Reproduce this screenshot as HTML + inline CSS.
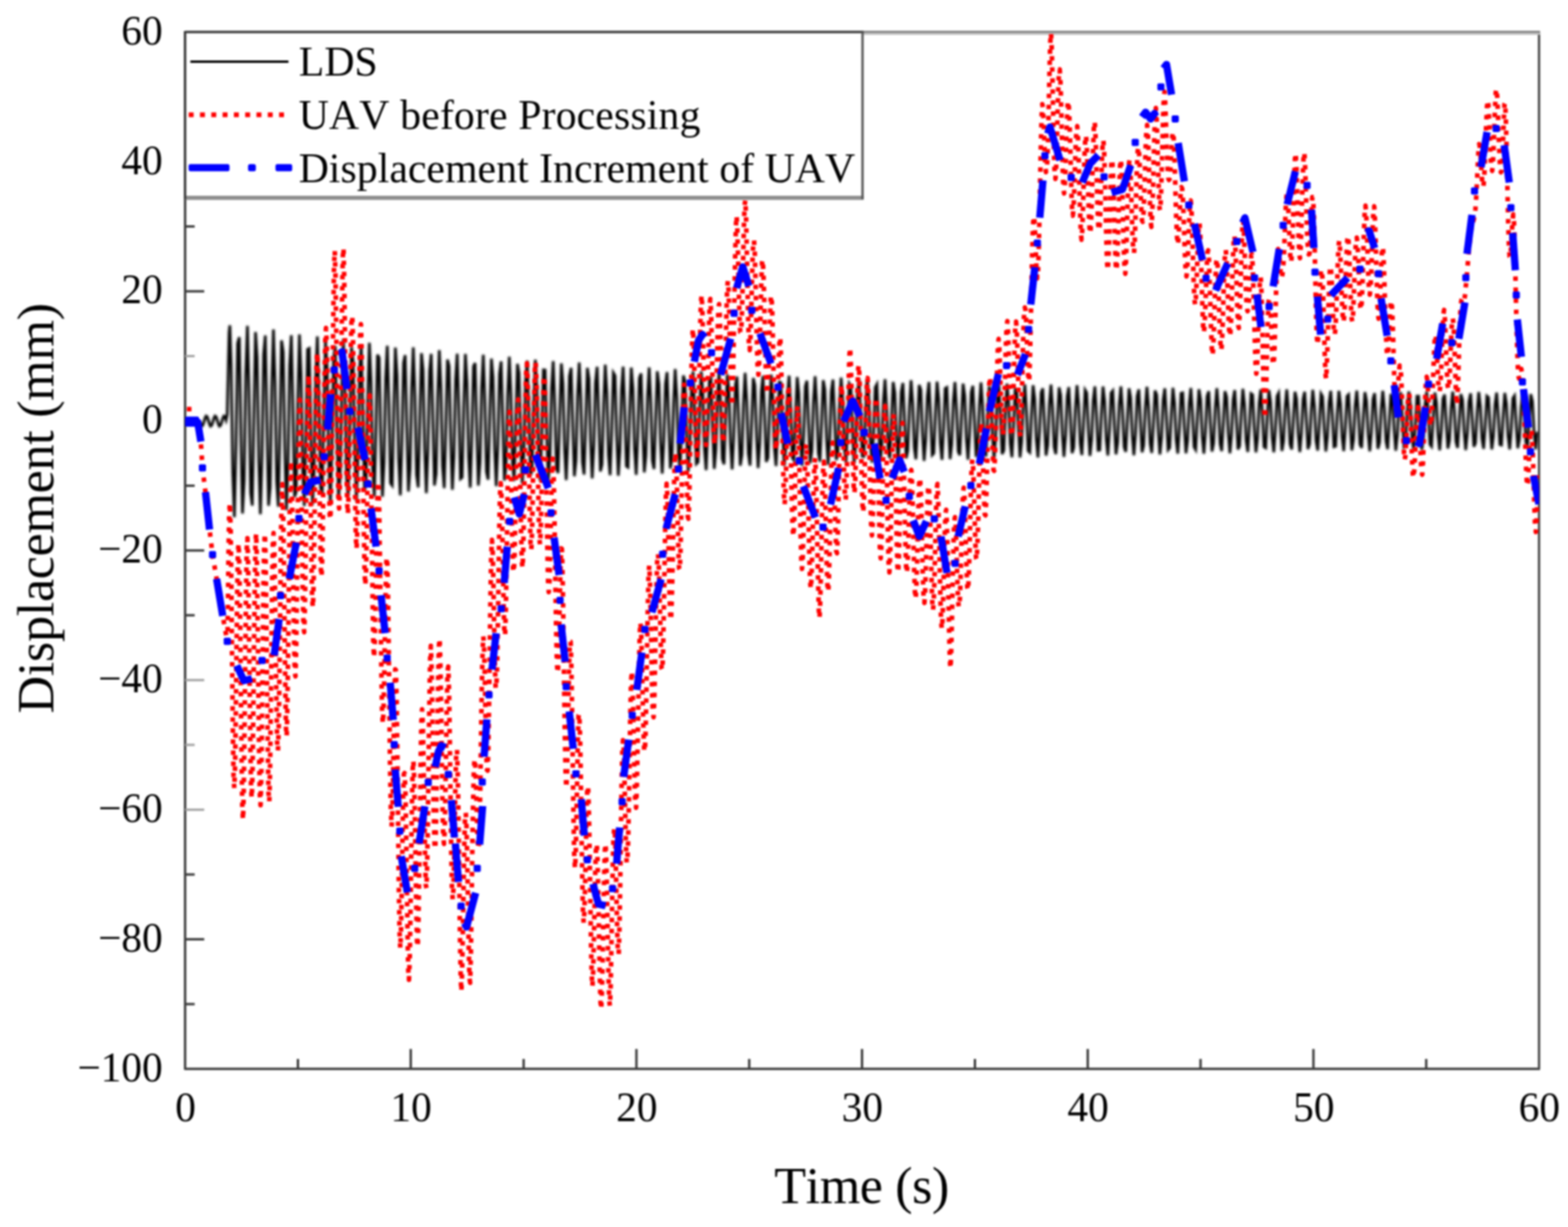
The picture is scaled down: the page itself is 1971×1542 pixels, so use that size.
<!DOCTYPE html>
<html lang="en"><head><meta charset="utf-8"><title>Displacement vs Time</title>
<style>html,body{margin:0;padding:0;background:#fff;width:1971px;height:1542px;overflow:hidden}svg{display:block;filter:blur(0.8px)}text{font-family:"Liberation Serif","DejaVu Serif",serif;fill:#000;font-kerning:none}.tk{font-size:52px}.ax{font-size:65.5px}.lg{font-size:52.5px}</style></head><body>
<svg width="1971" height="1542" viewBox="0 0 1971 1542">
<rect x="0" y="0" width="1971" height="1542" fill="#fff"/>
<defs><clipPath id="pc"><rect x="231.7" y="40.3" width="1702.8999999999999" height="1303.0"/></clipPath><filter id="soft" x="-2%" y="-10%" width="104%" height="120%"><feGaussianBlur stdDeviation="1.2"/></filter></defs>
<g stroke="#3c3c3c" stroke-width="3.0" fill="none">
<line x1="232.7" y1="39.0" x2="232.7" y2="1344.6"/>
<line x1="232.7" y1="1343.3" x2="1935.8999999999999" y2="1343.3"/>
<line x1="1934.6" y1="40.3" x2="1934.6" y2="1343.3" stroke="#4c4c4c"/>
<line x1="232.7" y1="39.9" x2="1935.8999999999999" y2="39.9" stroke="#7a7a7a" stroke-width="2.2"/>
<line x1="232.7" y1="42.3" x2="1935.8999999999999" y2="42.3" stroke="#bdbdbd" stroke-width="2.8"/>
<line x1="374.5" y1="1343.3" x2="374.5" y2="1330.8"/>
<line x1="516.3" y1="1343.3" x2="516.3" y2="1318.3"/>
<line x1="658.2" y1="1343.3" x2="658.2" y2="1330.8"/>
<line x1="800.0" y1="1343.3" x2="800.0" y2="1318.3"/>
<line x1="941.8" y1="1343.3" x2="941.8" y2="1330.8"/>
<line x1="1083.6" y1="1343.3" x2="1083.6" y2="1318.3"/>
<line x1="1225.5" y1="1343.3" x2="1225.5" y2="1330.8"/>
<line x1="1367.3" y1="1343.3" x2="1367.3" y2="1318.3"/>
<line x1="1509.1" y1="1343.3" x2="1509.1" y2="1330.8"/>
<line x1="1651.0" y1="1343.3" x2="1651.0" y2="1318.3"/>
<line x1="1792.8" y1="1343.3" x2="1792.8" y2="1330.8"/>
<line x1="232.7" y1="1261.9" x2="244.7" y2="1261.9"/>
<line x1="232.7" y1="1180.4" x2="256.7" y2="1180.4"/>
<line x1="232.7" y1="1099.0" x2="244.7" y2="1099.0"/>
<line x1="232.7" y1="1017.6" x2="256.7" y2="1017.6" stroke="#a6a6a6"/>
<line x1="232.7" y1="936.1" x2="244.7" y2="936.1" stroke="#a6a6a6"/>
<line x1="232.7" y1="854.7" x2="256.7" y2="854.7" stroke="#a6a6a6"/>
<line x1="232.7" y1="773.2" x2="244.7" y2="773.2"/>
<line x1="232.7" y1="691.8" x2="256.7" y2="691.8"/>
<line x1="232.7" y1="610.4" x2="244.7" y2="610.4"/>
<line x1="232.7" y1="447.5" x2="244.7" y2="447.5" stroke="#a6a6a6"/>
<line x1="232.7" y1="366.1" x2="256.7" y2="366.1"/>
<line x1="232.7" y1="284.6" x2="244.7" y2="284.6"/>
<line x1="232.7" y1="203.2" x2="256.7" y2="203.2"/>
<line x1="232.7" y1="121.7" x2="244.7" y2="121.7"/>
</g>
<g clip-path="url(#pc)" fill="none">
<polyline points="250.5,529.2 252.0,532.7 253.4,535.6 254.8,534.7 256.2,530.7 257.6,525.8 259.0,522.9 260.4,523.7 261.8,527.8 263.2,532.7 264.6,535.6 266.0,534.7 267.4,530.7 268.8,525.8 270.2,522.9 271.6,523.7 273.0,527.8 274.4,532.7 275.8,535.6 277.2,534.7 278.6,530.7 280.0,525.8 281.4,522.9 282.8,523.7 284.2,527.8 285.6,520.8 288.0,418.2 288.9,408.8 290.5,458.2 292.6,594.1 294.6,650.0 296.7,558.3 298.7,431.4 300.8,423.8 302.8,544.1 304.8,645.3 306.9,604.3 308.9,471.9 311.0,409.5 313.0,492.8 315.1,619.6 317.1,635.4 319.2,521.6 321.2,417.3 323.2,449.3 325.3,578.0 327.3,646.3 329.4,571.4 331.4,445.3 333.5,421.6 335.5,528.6 337.6,635.5 339.6,612.2 341.6,487.7 343.7,414.1 345.7,480.5 347.8,605.5 349.8,636.7 351.9,536.6 353.9,427.7 356.0,442.5 358.0,562.4 360.0,640.9 362.1,582.8 364.1,459.4 366.2,421.3 368.2,514.3 370.3,624.6 372.3,617.9 374.4,503.0 376.4,420.2 378.4,470.1 380.5,591.3 382.5,636.0 384.6,550.2 386.6,438.9 388.7,437.8 390.7,547.5 392.8,634.1 394.8,592.3 396.9,473.6 398.9,422.9 400.9,501.4 403.0,613.0 405.0,621.7 407.1,517.5 409.1,427.7 411.2,461.5 413.2,577.2 415.3,633.6 417.3,562.3 419.3,450.8 421.4,434.9 423.4,533.5 425.5,626.0 427.5,600.0 429.6,487.6 431.6,426.1 433.7,490.0 435.7,601.0 437.7,623.7 439.8,531.0 441.8,436.3 443.9,454.7 445.9,563.4 448.0,629.6 450.0,573.0 452.1,463.1 454.1,433.8 456.1,520.5 458.2,616.9 460.2,605.8 462.3,501.2 464.3,430.8 466.4,480.2 468.4,588.6 470.5,623.9 472.5,543.5 474.5,445.7 476.6,449.7 478.6,550.1 480.7,624.2 482.7,582.0 484.8,475.5 486.8,434.5 488.9,508.6 490.9,607.1 493.0,610.0 495.0,514.2 497.0,436.8 499.1,471.9 501.1,576.2 503.2,622.5 505.2,554.7 507.3,455.9 509.3,446.4 511.4,537.4 513.4,617.6 515.4,589.5 517.5,487.8 519.5,436.6 521.6,498.0 523.6,596.7 525.7,612.5 527.7,526.5 529.8,443.9 531.8,465.1 533.8,563.9 535.9,619.6 537.9,564.7 540.0,466.5 542.0,444.7 544.1,525.5 546.1,610.1 548.2,595.5 550.2,500.0 552.2,440.1 554.3,488.6 556.3,585.9 558.4,613.4 560.4,537.9 562.5,451.9 564.5,460.0 566.6,552.0 568.6,615.5 570.6,573.4 572.7,477.4 574.7,444.6 576.8,514.6 578.8,601.7 580.9,599.9 582.9,511.7 585.0,444.9 587.0,480.7 589.1,575.0 591.1,612.8 593.1,548.4 595.2,460.5 597.2,456.3 599.3,540.5 601.3,610.2 603.4,580.7 605.4,488.3 607.5,445.8 609.5,504.6 611.5,592.8 613.6,602.8 615.6,522.9 617.7,450.7 619.7,474.0 621.8,564.1 623.8,610.9 625.9,557.8 627.9,469.7 629.9,454.1 632.0,529.6 634.0,603.9 636.1,586.6 638.1,499.2 640.2,448.3 642.2,495.8 644.3,583.4 646.3,604.3 648.3,533.4 650.4,457.4 652.4,468.8 654.5,553.4 656.5,607.8 658.6,566.0 660.6,479.2 662.7,453.3 664.7,519.5 666.8,596.9 668.8,591.2 670.8,509.7 672.9,452.0 674.9,488.1 677.0,573.8 679.0,604.4 681.1,543.1 683.1,464.7 685.2,464.9 687.2,543.0 689.2,603.6 691.3,573.1 693.3,488.9 695.4,453.8 697.4,510.3 699.5,589.2 701.5,594.4 703.6,519.9 705.6,456.7 707.6,481.7 709.7,564.1 711.7,603.3 713.8,551.9 715.8,472.7 717.9,462.3 719.9,533.0 722.0,598.5 724.0,579.0 726.0,498.6 728.1,455.5 730.1,501.9 732.2,581.0 734.2,596.4 736.3,529.6 738.3,462.3 740.4,476.4 742.4,554.4 744.4,601.1 746.5,559.7 748.5,481.0 750.6,461.0 752.6,523.7 754.7,592.5 756.7,583.7 758.8,508.2 760.8,458.3 762.9,494.6 764.9,572.5 766.9,597.1 769.0,538.6 771.0,468.5 773.1,472.3 775.1,545.0 777.2,597.8 779.2,566.6 781.3,489.6 783.3,460.8 785.3,515.0 787.4,585.9 789.4,587.2 791.5,517.5 793.5,462.0 795.6,488.2 797.6,563.9 799.7,596.7 801.7,546.9 803.7,475.4 805.8,469.4 807.8,535.9 809.9,593.6 811.9,572.4 814.0,498.3 816.0,461.8 818.1,507.1 820.1,578.8 822.1,589.5 824.2,526.4 826.2,466.6 828.3,482.9 830.3,555.2 832.4,595.2 834.4,554.4 836.5,482.7 838.5,467.6 840.5,527.2 842.6,588.7 844.6,577.2 846.7,507.0 848.7,463.8 850.8,500.1 852.8,571.3 854.9,590.7 856.9,534.8 859.0,471.9 861.0,478.7 863.0,546.6 865.1,592.7 867.1,561.0 869.2,490.4 871.2,466.9 873.3,519.1 875.3,583.0 877.4,580.9 879.4,515.5 881.4,466.7 883.5,493.9 885.5,563.6 887.6,590.8 889.6,542.6 891.7,477.9 893.7,475.5 895.8,538.2 897.8,589.3 899.8,566.7 901.9,498.2 903.9,467.3 906.0,511.6 908.0,576.8 910.1,583.5 912.1,523.7 914.2,470.5 916.2,488.6 918.2,555.8 920.3,590.0 922.3,549.7 924.4,484.3 926.4,473.4 928.5,530.2 930.5,585.2 932.6,571.5 934.6,506.0 936.6,468.7 938.7,504.8 940.7,570.2 942.8,585.1 944.8,531.6 946.9,475.0 948.9,484.3 951.0,547.9 953.0,588.2 955.1,556.2 957.1,491.1 959.1,472.3 961.2,522.5 963.2,580.4 965.3,575.4 967.3,513.8 969.4,470.9 971.4,498.8 973.5,563.3 975.5,585.7 977.5,538.9 979.6,480.1 981.6,480.9 983.7,540.2 985.7,585.5 987.8,561.8 989.8,498.1 991.9,472.2 993.9,515.4 995.9,575.0 998.0,578.2 1000.0,521.4 1002.1,473.9 1004.1,493.6 1006.2,556.2 1008.2,585.4 1010.3,545.7 1012.3,485.7 1014.3,478.5 1016.4,532.7 1018.4,582.1 1020.5,566.6 1022.5,505.2 1024.6,472.9 1026.6,508.9 1028.7,569.2 1030.7,580.2 1032.8,528.8 1034.8,477.7 1036.8,489.2 1038.9,549.0 1040.9,584.2 1043.0,551.9 1045.0,491.8 1047.1,477.0 1049.1,525.6 1051.2,578.0 1053.2,570.5 1055.2,512.4 1057.3,474.6 1059.3,503.1 1061.4,563.0 1063.4,581.2 1065.5,535.7 1067.5,482.1 1069.6,485.7 1071.6,541.9 1073.6,582.2 1075.7,557.5 1077.7,498.1 1079.8,476.4 1081.8,518.8 1083.9,573.4 1085.9,573.6 1088.0,519.5 1090.0,477.0 1092.0,497.9 1094.1,556.5 1096.1,581.4 1098.2,542.3 1100.2,487.0 1102.3,483.0 1104.3,534.9 1106.4,579.4 1108.4,562.3 1110.4,504.6 1112.5,476.7 1114.5,512.5 1116.6,568.2 1118.6,575.9 1120.7,526.3 1122.7,480.1 1124.8,493.5 1126.8,550.0 1128.9,580.7 1130.9,548.2 1132.9,492.4 1135.0,481.2 1137.0,528.2 1139.1,575.9 1141.1,566.3 1143.2,511.2 1145.2,477.8 1147.3,506.8 1149.3,562.7 1151.3,577.2 1153.4,532.9 1155.4,483.9 1157.5,489.8 1159.5,543.4 1161.6,579.2 1163.6,553.7 1165.7,498.1 1167.7,480.2 1169.7,521.7 1171.8,571.9 1173.8,569.6 1175.9,517.7 1177.9,479.7 1180.0,501.7 1182.0,556.8 1184.1,577.8 1186.1,539.2 1188.1,488.2 1190.2,486.9 1192.2,536.9 1194.3,577.0 1196.3,558.4 1198.4,504.0 1200.4,480.1 1202.5,515.7 1204.5,567.3 1206.5,572.0 1208.6,524.2 1210.6,482.2 1212.7,497.3 1214.7,550.8 1216.8,577.6 1218.8,545.0 1220.9,492.9 1222.9,484.9 1225.0,530.5 1227.0,574.1 1229.0,562.6 1231.1,510.1 1233.1,480.7 1235.2,510.1 1237.2,562.4 1239.3,573.7 1241.3,530.5 1243.4,485.4 1245.4,493.5 1247.4,544.7 1249.5,576.5 1251.5,550.3 1253.6,498.1 1255.6,483.6 1257.7,524.3 1259.7,570.6 1261.8,566.0 1263.8,516.2 1265.8,482.1 1267.9,505.1 1269.9,557.1 1272.0,574.6 1274.0,536.5 1276.1,489.2 1278.1,490.5 1280.2,538.6 1282.2,574.8 1284.2,555.1 1286.3,503.5 1288.3,483.1 1290.4,518.5 1292.4,566.6 1294.5,568.6 1296.5,522.3 1298.6,484.2 1300.6,500.6 1302.6,551.5 1304.7,574.8 1306.7,542.1 1308.8,493.4 1310.8,488.2 1312.9,532.5 1314.9,572.4 1317.0,559.2 1319.0,509.1 1321.1,483.3 1323.1,513.1 1325.1,562.1 1327.2,570.6 1329.2,528.3 1331.3,486.8 1333.3,496.8 1335.4,545.9 1337.4,574.2 1339.5,547.3 1341.5,498.1 1343.5,486.6 1345.6,526.7 1347.6,569.4 1349.7,562.7 1351.7,514.9 1353.8,484.2 1355.8,508.1 1357.9,557.3 1359.9,571.8 1361.9,534.0 1364.0,490.1 1366.0,493.6 1368.1,540.1 1370.1,572.9 1372.2,552.0 1374.2,503.1 1376.3,485.7 1378.3,521.1 1380.3,565.9 1382.4,565.6 1384.4,520.6 1386.5,485.8 1388.5,503.7 1390.6,552.2 1392.6,572.3 1394.7,539.5 1396.7,493.9 1398.8,491.1 1400.8,534.4 1402.8,571.0 1404.9,556.2 1406.9,508.3 1409.0,485.6 1411.0,515.8 1413.1,561.9 1415.1,567.8 1417.2,526.3 1419.2,488.1 1421.2,499.8 1423.3,546.9 1425.3,572.1 1427.4,544.6 1429.4,498.1 1431.5,489.3 1433.5,528.8 1435.6,568.4 1437.6,559.8 1439.6,513.6 1441.7,486.1 1443.7,510.9 1445.8,557.5 1447.8,569.2 1449.9,531.8 1451.9,490.9 1454.0,496.4 1456.0,541.5 1458.0,571.2 1460.1,549.3 1462.1,502.6 1464.2,488.1 1466.2,523.4 1468.3,565.3 1470.3,562.8 1472.4,519.0 1474.4,487.4 1476.4,506.4 1478.5,552.9 1480.5,570.0 1482.6,537.1 1484.6,494.3 1486.7,493.7 1488.7,536.1 1490.8,569.6 1492.8,553.5 1494.9,507.4 1496.9,487.7 1498.9,518.2 1501.0,561.8 1503.0,565.2 1505.1,524.4 1507.1,489.2 1509.2,502.4 1511.2,547.9 1513.3,570.2 1515.3,542.1 1517.3,498.0 1519.4,491.7 1521.4,530.7 1523.5,567.5 1525.5,557.2 1527.6,512.5 1529.6,487.9 1531.7,513.4 1533.7,557.8 1535.7,566.9 1537.8,529.8 1539.8,491.6 1541.9,499.0 1543.9,542.8 1546.0,569.6 1548.0,546.8 1550.1,502.2 1552.1,490.3 1554.1,525.5 1556.2,564.8 1558.2,560.3 1560.3,517.6 1562.3,488.7 1564.4,508.9 1566.4,553.5 1568.5,568.0 1570.5,534.9 1572.5,494.6 1574.6,496.2 1576.6,537.7 1578.7,568.5 1580.7,551.0 1582.8,506.7 1584.8,489.5 1586.9,520.4 1588.9,561.6 1591.0,562.9 1593.0,522.8 1595.0,490.2 1597.1,504.9 1599.1,548.9 1601.2,568.4 1603.2,539.8 1605.3,498.0 1607.3,493.9 1609.4,532.5 1611.4,566.7 1613.4,554.8 1615.5,511.4 1617.5,489.4 1619.6,515.7 1621.6,558.0 1623.7,564.8 1625.7,527.9 1627.8,492.3 1629.8,501.4 1631.8,544.1 1633.9,568.2 1635.9,544.5 1638.0,501.8 1640.0,492.3 1642.1,527.4 1644.1,564.4 1646.2,558.0 1648.2,516.2 1650.2,490.0 1652.3,511.2 1654.3,554.0 1656.4,566.2 1658.4,532.9 1660.5,494.8 1662.5,498.4 1664.6,539.1 1666.6,567.4 1668.6,548.7 1670.7,505.9 1672.7,491.2 1674.8,522.5 1676.8,561.5 1678.9,560.8 1680.9,521.2 1683.0,491.1 1685.0,507.2 1687.1,549.7 1689.1,566.9 1691.1,537.7 1693.2,497.9 1695.2,495.9 1697.3,534.2 1699.3,566.0 1701.4,552.6 1703.4,510.4 1705.5,490.9 1707.5,517.8 1709.5,558.3 1711.6,562.9 1713.6,526.1 1715.7,492.8 1717.7,503.6 1719.8,545.2 1721.8,567.0 1723.9,542.3 1725.9,501.4 1727.9,494.1 1730.0,529.3 1732.0,564.0 1734.1,555.9 1736.1,515.0 1738.2,491.1 1740.2,513.4 1742.3,554.6 1744.3,564.5 1746.3,531.0 1748.4,495.1 1750.4,500.4 1752.5,540.5 1754.5,566.4 1756.6,546.6 1758.6,505.2 1760.7,492.8 1762.7,524.4 1764.8,561.5 1766.8,558.8 1768.8,519.7 1770.9,491.9 1772.9,509.3 1775.0,550.6 1777.0,565.4 1779.1,535.8 1781.1,497.8 1783.2,497.8 1785.2,535.8 1787.2,565.3 1789.3,550.5 1791.3,509.4 1793.4,492.2 1795.4,519.8 1797.5,558.5 1799.5,561.1 1801.6,524.5 1803.6,493.3 1805.6,505.6 1807.7,546.3 1809.7,565.8 1811.8,540.3 1813.8,501.0 1815.9,495.8 1817.9,531.0 1820.0,563.6 1822.0,553.9 1824.0,513.8 1826.1,492.1 1828.1,515.4 1830.2,555.1 1832.2,562.9 1834.3,529.2 1836.3,495.3 1838.4,502.3 1840.4,541.8 1842.4,565.5 1844.5,544.6 1846.5,504.6 1848.6,494.3 1850.6,526.3 1852.7,561.4 1854.7,556.9 1856.8,518.3 1858.8,492.7 1860.9,511.3 1862.9,551.4 1864.9,564.1 1867.0,533.9 1869.0,497.7 1871.1,499.6 1873.1,537.2 1875.2,564.7 1877.2,548.5 1879.3,508.5 1881.3,493.4 1883.3,521.7 1885.4,558.8 1887.4,559.4 1889.5,522.9 1891.5,493.8 1893.6,507.5 1895.6,547.3 1897.7,564.7 1899.7,538.4 1901.7,500.6 1903.8,497.4 1905.8,532.6 1907.9,563.3 1909.9,552.1 1912.0,512.6 1914.0,493.1 1916.1,517.3 1918.1,555.6 1920.1,561.4 1922.2,527.6 1924.2,495.4 1926.3,504.2 1928.3,543.1 1930.4,564.7 1932.4,542.7" stroke="#000" stroke-width="3.3" stroke-linejoin="miter" filter="url(#soft)"/>
<polyline points="237.8,511.3 237.8,527.0 244.0,530.4 245.5,530.4 247.0,530.5 248.5,530.5 250.0,539.7 251.5,548.9 253.0,563.2 254.5,588.0 256.0,600.0 257.5,612.1 259.0,624.9 260.5,638.7 262.0,652.5 263.5,666.2 265.0,678.7 266.5,691.3 268.0,701.9 269.5,710.8 271.0,719.8 272.5,728.7 274.0,737.8 275.5,746.8 277.0,755.9 278.5,764.9 280.0,774.0 281.5,782.4 283.0,790.8 284.5,799.3 286.0,806.8 286.3,780.3 287.2,699.3 288.1,644.4 289.0,632.0 290.0,668.7 290.9,742.0 291.8,832.8 292.7,917.6 293.6,974.9 294.5,990.7 295.5,962.6 296.4,898.7 297.3,817.5 298.2,741.6 299.1,692.4 300.0,682.9 300.9,713.9 301.9,782.2 302.8,870.4 303.7,955.5 304.6,1014.7 305.5,1030.4 306.4,994.9 307.3,922.1 308.3,831.4 309.2,746.8 310.1,690.3 311.0,676.4 311.9,708.0 312.8,775.8 313.8,860.9 314.7,940.1 315.6,991.9 316.5,1003.1 317.4,972.4 318.3,905.4 319.2,819.8 320.2,738.5 321.1,683.6 322.0,670.1 322.9,702.2 323.8,771.3 324.7,859.1 325.6,942.0 326.6,998.1 327.5,1011.9 328.4,979.2 329.3,909.6 330.2,821.7 331.1,739.1 332.1,683.8 333.0,670.6 333.9,702.9 334.8,771.9 335.7,859.2 336.6,941.2 337.5,996.0 338.5,1007.8 339.4,970.9 340.3,899.6 341.2,813.3 342.1,734.4 343.0,683.0 343.9,669.9 344.9,693.7 345.8,750.6 346.7,823.8 347.6,892.4 348.5,936.5 349.4,943.7 350.4,913.0 351.3,847.6 352.2,763.7 353.1,682.7 354.0,625.7 354.9,608.5 355.8,637.3 356.8,701.9 357.7,784.7 358.6,863.0 359.5,915.2 360.4,925.6 361.3,888.2 362.2,816.5 363.2,729.2 364.1,648.7 365.0,594.9 365.9,579.6 366.8,602.4 367.7,658.7 368.7,731.7 369.6,800.1 370.5,844.0 371.4,850.0 372.3,815.8 373.2,747.2 374.1,660.9 375.1,578.4 376.0,520.5 376.9,502.4 377.8,530.0 378.7,591.4 379.6,668.9 380.5,740.6 381.5,786.7 382.4,794.5 383.3,762.7 384.2,697.5 385.1,615.7 386.0,538.5 387.0,486.0 387.9,471.5 388.8,498.3 389.7,558.4 390.6,635.0 391.5,706.9 392.4,754.1 393.4,763.4 394.3,731.2 395.2,666.2 396.1,585.2 397.0,509.1 397.9,457.5 398.8,443.4 399.8,469.4 400.7,527.9 401.6,602.1 402.5,671.6 403.4,717.0 404.3,724.8 405.3,690.9 406.2,626.3 407.1,547.7 408.0,475.2 408.9,426.7 409.8,412.1 410.7,430.3 411.7,479.4 412.6,544.6 413.5,606.6 414.4,646.7 415.3,652.8 416.2,623.4 417.1,559.6 418.1,476.2 419.0,393.9 419.9,334.2 420.8,314.9 421.7,345.9 422.6,412.4 423.6,496.4 424.5,575.0 425.4,627.1 426.3,639.1 427.2,608.5 428.1,542.0 429.0,457.4 430.0,377.3 430.9,323.3 431.8,311.6 432.7,349.6 433.6,420.7 434.5,505.8 435.4,583.0 436.4,633.1 437.3,645.9 438.2,622.3 439.1,568.5 440.0,501.1 440.9,439.7 441.9,401.8 442.8,397.0 443.7,423.8 444.6,481.1 445.5,554.8 446.4,625.6 447.3,675.1 448.3,689.9 449.2,666.0 450.1,609.5 451.0,535.8 451.9,465.1 452.8,417.2 453.7,407.5 454.7,443.6 455.6,511.2 456.5,593.2 457.4,668.9 458.3,720.0 459.2,735.7 460.2,716.3 461.1,666.1 462.0,600.4 462.9,538.9 463.8,500.1 464.7,496.8 465.6,532.8 466.6,599.0 467.5,679.7 468.4,755.5 469.3,808.4 470.2,826.6 471.1,807.5 472.0,759.4 473.0,697.8 473.9,641.3 474.8,607.0 475.7,605.5 476.6,638.1 477.5,698.8 478.5,773.1 479.4,843.0 480.3,891.8 481.2,909.5 482.1,895.5 483.0,852.5 483.9,794.0 484.9,738.0 485.8,702.3 486.7,700.4 487.6,738.1 488.5,805.1 489.4,886.2 490.3,962.7 491.3,1017.2 492.2,1038.9 493.1,1026.3 494.0,984.2 494.9,927.1 495.8,873.5 496.8,841.2 497.7,842.2 498.6,879.4 499.5,947.2 500.4,1030.9 501.3,1111.3 502.2,1169.9 503.2,1191.8 504.1,1169.1 505.0,1118.6 505.9,1057.0 506.8,1003.2 507.7,972.7 508.6,971.5 509.6,993.6 510.5,1043.7 511.4,1109.5 512.3,1173.8 513.2,1219.2 514.1,1231.4 515.1,1202.8 516.0,1146.1 516.9,1076.1 517.8,1011.2 518.7,967.8 519.6,955.7 520.5,974.8 521.5,1022.4 522.4,1084.8 523.3,1144.3 524.2,1183.5 525.1,1189.9 526.0,1158.5 526.9,1098.6 527.9,1024.8 528.8,955.3 529.7,907.2 530.6,891.4 531.5,909.5 532.4,956.3 533.4,1017.5 534.3,1075.0 535.2,1111.7 536.1,1116.3 537.0,1086.7 537.9,1027.2 538.8,951.9 539.8,879.5 540.7,828.0 541.6,811.7 542.5,837.1 543.4,891.5 544.3,959.1 545.2,1021.0 546.2,1060.2 547.1,1067.0 548.0,1041.6 548.9,987.9 549.8,920.0 550.7,855.9 551.7,812.7 552.6,802.4 553.5,829.7 554.4,883.8 555.3,950.0 556.2,1010.7 557.1,1050.3 558.1,1060.5 559.0,1043.0 559.9,998.2 560.8,938.8 561.7,881.6 562.6,843.5 563.5,837.7 564.5,870.6 565.4,930.2 566.3,1002.0 567.2,1068.5 568.1,1114.3 569.0,1130.3 570.0,1117.2 570.9,1077.6 571.8,1024.5 572.7,974.4 573.6,943.5 574.5,942.2 575.4,972.8 576.4,1031.5 577.3,1105.1 578.2,1176.4 579.1,1228.2 580.0,1246.0 580.9,1221.1 581.8,1170.8 582.8,1110.4 583.7,1057.5 584.6,1026.1 585.5,1021.5 586.4,1037.5 587.3,1079.3 588.3,1135.8 589.2,1191.1 590.1,1229.2 591.0,1235.1 591.9,1197.9 592.8,1137.7 593.7,1069.3 594.7,1008.8 595.6,968.8 596.5,953.9 597.4,959.1 598.3,984.7 599.2,1019.7 600.1,1051.1 601.1,1066.8 602.0,1060.8 602.9,1035.1 603.8,987.2 604.7,926.5 605.6,866.1 606.6,820.0 607.5,799.5 608.4,810.0 609.3,844.9 610.2,892.8 611.1,938.6 612.0,967.4 613.0,968.4 613.9,937.8 614.8,881.6 615.7,812.1 616.6,745.4 617.5,697.0 618.4,678.5 619.4,694.9 620.3,736.0 621.2,788.4 622.1,836.0 623.0,864.4 623.9,865.1 624.9,838.5 625.8,787.6 626.7,724.4 627.6,664.4 628.5,622.1 629.4,607.1 630.3,621.1 631.3,660.3 632.2,712.9 633.1,763.1 634.0,795.4 634.9,798.8 635.8,769.5 636.7,714.0 637.7,645.3 638.6,579.8 639.5,533.1 640.4,517.5 641.3,538.6 642.2,583.6 643.1,638.5 644.1,687.3 645.0,716.3 645.9,719.3 646.8,698.9 647.7,655.4 648.6,600.2 649.6,547.7 650.5,512.0 651.4,501.9 652.3,518.8 653.2,560.4 654.1,615.5 655.0,669.0 656.0,705.6 656.9,713.9 657.8,689.4 658.7,638.7 659.6,574.3 660.5,512.5 661.4,469.3 662.4,456.7 663.3,479.7 664.2,528.7 665.1,589.9 666.0,646.6 666.9,683.5 667.9,691.1 668.8,668.1 669.7,619.8 670.6,559.1 671.5,502.1 672.4,463.9 673.3,455.0 674.3,478.2 675.2,525.8 676.1,584.7 677.0,639.3 677.9,675.2 678.8,684.4 679.7,667.9 680.7,626.0 681.6,570.0 682.5,515.8 683.4,479.0 684.3,472.6 685.2,503.8 686.2,559.7 687.1,626.5 688.0,687.9 688.9,729.8 689.8,744.1 690.7,731.7 691.6,695.5 692.6,647.7 693.5,603.2 694.4,576.4 695.3,576.7 696.2,606.7 697.1,660.0 698.0,724.4 699.0,785.2 699.9,828.4 700.8,845.9 701.7,837.5 702.6,805.0 703.5,759.4 704.5,715.9 705.4,689.1 706.3,689.8 707.2,721.5 708.1,778.9 709.0,850.0 709.9,918.7 710.9,969.4 711.8,990.1 712.7,975.7 713.6,935.6 714.5,883.2 715.4,835.0 716.3,806.2 717.3,806.4 718.2,836.3 719.1,892.1 720.0,961.1 720.9,1027.0 721.8,1074.2 722.8,1091.5 723.7,1074.6 724.6,1032.4 725.5,978.4 726.4,928.9 727.3,898.7 728.2,897.3 729.2,926.4 730.1,979.5 731.0,1043.7 731.9,1103.7 732.8,1145.3 733.7,1159.8 734.6,1146.0 735.6,1109.0 736.5,1060.8 737.4,1016.2 738.3,989.0 739.2,988.0 740.1,1014.4 741.1,1064.0 742.0,1125.5 742.9,1184.0 743.8,1225.6 744.7,1239.8 745.6,1222.2 746.5,1182.8 747.5,1133.9 748.4,1089.9 749.3,1063.4 750.2,1060.6 751.1,1079.3 752.0,1119.9 752.9,1172.4 753.9,1223.1 754.8,1258.4 755.7,1268.3 756.6,1248.3 757.5,1206.0 758.4,1152.5 759.4,1102.3 760.3,1068.7 761.2,1060.3 762.1,1078.6 763.0,1119.7 763.9,1172.7 764.8,1223.2 765.8,1257.2 766.7,1264.2 767.6,1239.0 768.5,1192.3 769.4,1136.2 770.3,1085.1 771.2,1051.3 772.2,1040.6 773.1,1050.0 774.0,1081.7 774.9,1126.0 775.8,1169.1 776.7,1197.3 777.7,1199.3 778.6,1169.2 779.5,1116.2 780.4,1051.8 781.3,990.9 782.2,947.2 783.1,930.1 784.1,942.6 785.0,977.0 785.9,1021.3 786.8,1061.4 787.7,1084.3 788.6,1083.2 789.5,1058.7 790.5,1012.2 791.4,954.2 792.3,898.5 793.2,858.3 794.1,843.6 795.0,858.0 796.0,894.4 796.9,941.7 797.8,985.5 798.7,1012.9 799.6,1015.1 800.5,990.1 801.4,943.5 802.4,886.4 803.3,832.7 804.2,795.3 805.1,782.3 806.0,795.0 806.9,829.2 807.8,874.1 808.8,916.1 809.7,942.3 810.6,944.6 811.5,921.9 812.4,876.6 813.3,819.2 814.3,763.6 815.2,723.7 816.1,710.4 817.0,729.3 817.9,770.2 818.8,821.2 819.7,867.9 820.7,897.4 821.6,901.3 822.5,878.0 823.4,834.9 824.3,783.2 825.2,736.2 826.1,705.4 827.1,696.0 828.0,705.5 828.9,735.2 829.8,775.7 830.7,814.8 831.6,839.9 832.6,842.3 833.5,818.7 834.4,773.5 835.3,716.9 836.2,662.0 837.1,622.3 838.0,608.0 839.0,623.9 839.9,660.9 840.8,707.7 841.7,750.6 842.6,777.0 843.5,779.3 844.4,756.2 845.4,713.2 846.3,661.2 847.2,612.9 848.1,580.1 849.0,569.0 849.9,579.0 850.9,609.2 851.8,650.1 852.7,689.2 853.6,714.2 854.5,716.3 855.4,692.7 856.3,647.7 857.3,591.5 858.2,537.2 859.1,498.0 860.0,483.4 860.9,496.6 861.8,531.8 862.7,578.3 863.7,622.0 864.6,649.6 865.5,651.9 866.4,625.9 867.3,578.0 868.2,519.6 869.2,464.6 870.1,426.1 871.0,412.9 871.9,427.8 872.8,463.1 873.7,507.2 874.6,547.0 875.6,570.6 876.5,572.2 877.4,553.7 878.3,514.5 879.2,464.2 880.1,415.5 881.0,381.0 882.0,370.7 882.9,389.5 883.8,428.8 884.7,477.9 885.6,523.3 886.5,553.0 887.5,559.4 888.4,541.7 889.3,503.9 890.2,456.4 891.1,412.0 892.0,382.4 892.9,375.7 893.9,393.6 894.8,431.2 895.7,478.2 896.6,522.2 897.5,551.5 898.4,558.4 899.3,541.4 900.3,505.1 901.2,459.6 902.1,417.1 903.0,388.9 903.9,382.1 904.8,396.6 905.8,431.2 906.7,476.6 907.6,520.3 908.5,550.2 909.4,556.6 910.3,535.0 911.2,493.6 912.2,442.8 913.1,395.5 914.0,363.5 914.9,353.1 915.8,363.6 916.7,395.0 917.6,437.9 918.6,479.4 919.5,506.8 920.4,509.7 921.3,483.2 922.2,435.5 923.1,377.6 924.1,323.1 925.0,284.6 925.9,271.2 926.8,287.1 927.7,321.2 928.6,362.3 929.5,397.8 930.5,417.4 931.4,417.9 932.3,404.4 933.2,372.5 934.1,330.0 935.0,288.2 935.9,258.7 936.9,251.5 937.8,272.3 938.7,311.5 939.6,358.8 940.5,402.4 941.4,431.6 942.4,440.0 943.3,427.3 944.2,397.5 945.1,359.9 946.0,325.4 946.9,304.2 947.8,301.9 948.8,318.6 949.7,352.1 950.6,394.3 951.5,434.5 952.4,462.4 953.3,470.9 954.2,457.9 955.2,427.9 956.1,389.5 957.0,353.5 957.9,330.0 958.8,326.3 959.7,344.7 960.7,379.3 961.6,421.3 962.5,460.1 963.4,486.3 964.3,494.8 965.2,486.6 966.1,461.7 967.1,427.7 968.0,394.9 968.9,373.7 969.8,371.4 970.7,391.0 971.6,428.5 972.5,475.4 973.5,520.6 974.4,553.3 975.3,565.7 976.2,555.3 977.1,526.1 978.0,487.0 979.0,449.8 979.9,426.0 980.8,423.7 981.7,446.1 982.6,487.7 983.5,538.9 984.4,587.5 985.4,622.0 986.3,634.2 987.2,620.9 988.1,589.4 989.0,549.5 989.9,513.4 990.8,491.6 991.8,489.9 992.7,507.3 993.6,543.3 994.5,589.0 995.4,633.1 996.3,664.1 997.3,674.2 998.2,660.9 999.1,627.9 1000.0,584.6 1000.9,543.1 1001.8,515.4 1002.7,510.4 1003.7,531.9 1004.6,573.1 1005.5,623.9 1006.4,671.7 1007.3,704.7 1008.2,714.9 1009.1,700.0 1010.1,666.3 1011.0,624.0 1011.9,585.2 1012.8,561.0 1013.7,557.9 1014.6,575.5 1015.6,611.8 1016.5,657.6 1017.4,701.1 1018.3,731.1 1019.2,740.1 1020.1,726.7 1021.0,693.7 1022.0,650.5 1022.9,609.1 1023.8,581.5 1024.7,575.7 1025.6,593.8 1026.5,632.9 1027.4,683.5 1028.4,732.6 1029.3,767.2 1030.2,776.8 1031.1,755.5 1032.0,713.9 1032.9,663.4 1033.9,617.3 1034.8,587.4 1035.7,580.2 1036.6,595.3 1037.5,629.6 1038.4,673.2 1039.3,713.7 1040.3,739.8 1041.2,743.6 1042.1,723.2 1043.0,684.6 1043.9,637.8 1044.8,594.5 1045.7,565.4 1046.7,556.2 1047.6,565.9 1048.5,594.1 1049.4,632.3 1050.3,669.0 1051.2,692.8 1052.2,695.2 1053.1,672.9 1054.0,631.3 1054.9,580.0 1055.8,531.1 1056.7,496.3 1057.6,483.7 1058.6,496.4 1059.5,527.7 1060.4,567.6 1061.3,604.2 1062.2,626.3 1063.1,628.3 1064.0,611.2 1065.0,574.5 1065.9,526.9 1066.8,480.3 1067.7,446.9 1068.6,437.0 1069.5,456.3 1070.5,494.9 1071.4,542.0 1072.3,585.2 1073.2,613.3 1074.1,619.9 1075.0,605.5 1075.9,572.5 1076.9,530.0 1077.8,490.0 1078.7,463.8 1079.6,458.8 1080.5,476.7 1081.4,513.6 1082.3,560.2 1083.3,604.5 1084.2,635.0 1085.1,644.0 1086.0,629.4 1086.9,595.3 1087.8,550.9 1088.8,508.7 1089.7,480.6 1090.6,475.0 1091.5,494.6 1092.4,534.1 1093.3,583.8 1094.2,630.9 1095.2,663.3 1096.1,672.9 1097.0,657.7 1097.9,622.2 1098.8,576.5 1099.7,533.5 1100.6,505.2 1101.6,499.8 1102.5,518.6 1103.4,558.4 1104.3,609.3 1105.2,658.0 1106.1,691.9 1107.1,701.7 1108.0,684.5 1108.9,645.6 1109.8,595.7 1110.7,548.6 1111.6,517.1 1112.5,510.1 1113.5,530.1 1114.4,572.1 1115.3,625.3 1116.2,675.8 1117.1,710.2 1118.0,719.4 1118.9,700.1 1119.9,659.0 1120.8,607.3 1121.7,559.2 1122.6,527.4 1123.5,520.5 1124.4,540.1 1125.4,581.1 1126.3,632.2 1127.2,680.0 1128.1,711.8 1129.0,719.4 1129.9,701.1 1130.8,662.1 1131.8,613.1 1132.7,567.4 1133.6,537.3 1134.5,531.7 1135.4,554.0 1136.3,594.7 1137.2,642.7 1138.2,685.6 1139.1,713.1 1140.0,720.1 1140.9,708.0 1141.8,679.6 1142.7,643.9 1143.7,611.7 1144.6,592.3 1145.5,590.6 1146.4,605.5 1147.3,637.0 1148.2,677.5 1149.1,716.7 1150.1,744.3 1151.0,752.6 1151.9,738.1 1152.8,706.8 1153.7,667.3 1154.6,630.3 1155.5,605.9 1156.5,600.7 1157.4,616.1 1158.3,648.2 1159.2,688.3 1160.1,726.0 1161.0,751.3 1162.0,757.7 1162.9,744.0 1163.8,713.8 1164.7,675.5 1165.6,639.6 1166.5,615.7 1167.4,610.4 1168.4,624.7 1169.3,655.8 1170.2,695.7 1171.1,733.8 1172.0,759.8 1172.9,766.9 1173.8,753.6 1174.8,722.3 1175.7,681.2 1176.6,641.5 1177.5,614.3 1178.4,608.1 1179.3,627.0 1180.3,663.9 1181.2,709.6 1182.1,752.4 1183.0,781.5 1183.9,790.4 1184.8,778.8 1185.7,748.6 1186.7,708.6 1187.6,670.3 1188.5,645.1 1189.4,640.7 1190.3,658.6 1191.2,696.9 1192.1,746.7 1193.1,795.5 1194.0,830.5 1194.9,840.0 1195.8,815.7 1196.7,773.3 1197.6,724.6 1198.6,682.2 1199.5,656.0 1200.4,649.8 1201.3,660.7 1202.2,686.6 1203.1,718.6 1204.0,746.8 1205.0,762.6 1205.9,762.2 1206.8,748.0 1207.7,719.0 1208.6,682.0 1209.5,646.5 1210.4,621.2 1211.4,612.8 1212.3,623.3 1213.2,649.3 1214.1,683.7 1215.0,716.4 1215.9,738.2 1216.9,741.9 1217.8,724.8 1218.7,691.9 1219.6,651.3 1220.5,613.0 1221.4,586.4 1222.3,577.6 1223.3,587.7 1224.2,613.7 1225.1,648.0 1226.0,680.4 1226.9,701.2 1227.8,703.5 1228.7,684.8 1229.7,650.3 1230.6,608.1 1231.5,568.6 1232.4,541.1 1233.3,531.4 1234.2,540.3 1235.2,564.9 1236.1,597.3 1237.0,627.7 1237.9,646.6 1238.8,647.6 1239.7,629.1 1240.6,594.8 1241.6,552.6 1242.5,512.5 1243.4,483.9 1244.3,473.6 1245.2,483.4 1246.1,508.8 1247.0,541.6 1248.0,572.0 1248.9,590.7 1249.8,591.7 1250.7,574.4 1251.6,541.5 1252.5,500.9 1253.5,462.4 1254.4,435.2 1255.3,426.0 1256.2,437.5 1257.1,463.7 1258.0,496.4 1258.9,526.2 1259.9,544.4 1260.8,546.6 1261.7,534.0 1262.6,506.2 1263.5,470.1 1264.4,435.1 1265.3,410.5 1266.3,403.5 1267.2,417.2 1268.1,446.6 1269.0,483.8 1269.9,518.8 1270.8,542.3 1271.8,548.1 1272.7,534.5 1273.6,505.3 1274.5,468.3 1275.4,433.4 1276.3,410.0 1277.2,404.2 1278.2,416.7 1279.1,445.6 1280.0,483.0 1280.9,519.0 1281.8,543.5 1282.7,548.3 1283.6,528.5 1284.6,494.0 1285.5,453.8 1286.4,417.9 1287.3,394.5 1288.2,386.4 1289.1,389.4 1290.1,407.7 1291.0,435.0 1291.9,462.1 1292.8,479.4 1293.7,478.2 1294.6,453.0 1295.5,412.4 1296.5,364.7 1297.4,320.0 1298.3,287.4 1299.2,271.9 1300.1,273.4 1301.0,290.2 1301.9,315.0 1302.9,337.9 1303.8,349.8 1304.7,344.2 1305.6,319.3 1306.5,278.7 1307.4,229.9 1308.4,183.0 1309.3,147.5 1310.2,130.8 1311.1,136.7 1312.0,157.1 1312.9,183.4 1313.8,205.9 1314.8,216.4 1315.7,212.8 1316.6,200.8 1317.5,171.4 1318.4,130.2 1319.3,86.9 1320.2,53.2 1321.2,41.4 1322.1,61.8 1323.0,100.3 1323.9,146.7 1324.8,189.2 1325.7,217.3 1326.7,224.8 1327.6,211.3 1328.5,181.3 1329.4,144.0 1330.3,110.1 1331.2,89.3 1332.1,87.2 1333.1,104.3 1334.0,136.5 1334.9,175.7 1335.8,211.8 1336.7,236.0 1337.6,243.1 1338.5,232.6 1339.5,207.8 1340.4,176.2 1341.3,147.0 1342.2,128.9 1343.1,127.0 1344.0,142.0 1345.0,171.0 1345.9,206.8 1346.8,240.5 1347.7,263.8 1348.6,271.1 1349.5,261.6 1350.4,238.1 1351.4,207.8 1352.3,179.4 1353.2,161.3 1354.1,158.6 1355.0,171.9 1355.9,199.8 1356.8,235.4 1357.8,269.9 1358.7,294.2 1359.6,301.4 1360.5,287.9 1361.4,260.3 1362.3,226.2 1363.3,194.8 1364.2,174.6 1365.1,170.1 1366.0,180.8 1366.9,205.6 1367.8,237.8 1368.7,268.5 1369.7,289.0 1370.6,293.5 1371.5,280.4 1372.4,252.5 1373.3,216.8 1374.2,182.7 1375.1,159.0 1376.1,152.8 1377.0,167.7 1377.9,196.5 1378.8,231.5 1379.7,263.4 1380.6,284.0 1381.6,289.5 1382.5,281.6 1383.4,259.2 1384.3,228.8 1385.2,199.1 1386.1,179.3 1387.0,175.9 1388.0,191.4 1388.9,222.9 1389.8,263.1 1390.7,302.2 1391.6,330.3 1392.5,339.5 1393.4,325.4 1394.4,295.7 1395.3,259.0 1396.2,225.5 1397.1,204.3 1398.0,200.4 1398.9,213.7 1399.9,242.0 1400.8,277.8 1401.7,311.5 1402.6,334.1 1403.5,339.7 1404.4,326.8 1405.3,298.7 1406.3,262.8 1407.2,228.8 1408.1,205.9 1409.0,200.4 1409.9,213.9 1410.8,243.0 1411.7,279.9 1412.7,314.9 1413.6,338.6 1414.5,344.1 1415.4,328.5 1416.3,298.2 1417.2,261.3 1418.2,227.6 1419.1,205.6 1420.0,200.1 1420.9,211.2 1421.8,236.2 1422.7,267.7 1423.6,296.8 1424.6,315.4 1425.5,317.9 1426.4,302.9 1427.3,275.1 1428.2,241.7 1429.1,211.2 1430.0,190.8 1431.0,184.9 1431.9,193.2 1432.8,213.3 1433.7,239.1 1434.6,262.6 1435.5,277.1 1436.5,278.8 1437.4,268.8 1438.3,246.0 1439.2,215.7 1440.1,185.6 1441.0,164.0 1441.9,157.0 1442.9,167.3 1443.8,192.2 1444.7,225.2 1445.6,257.4 1446.5,279.8 1447.4,285.2 1448.3,270.3 1449.3,240.3 1450.2,202.8 1451.1,167.2 1452.0,142.8 1452.9,135.6 1453.8,147.0 1454.8,173.7 1455.7,208.0 1456.6,240.3 1457.5,261.4 1458.4,264.8 1459.3,248.3 1460.2,217.2 1461.2,179.4 1462.1,144.5 1463.0,121.0 1463.9,115.3 1464.8,131.1 1465.7,157.7 1466.6,187.0 1467.6,210.9 1468.5,223.9 1469.4,226.2 1470.3,224.6 1471.2,212.8 1472.1,194.8 1473.1,177.0 1474.0,165.8 1474.9,166.6 1475.8,182.1 1476.7,209.0 1477.6,241.8 1478.5,273.5 1479.5,297.2 1480.4,307.4 1481.3,301.0 1482.2,284.2 1483.1,263.1 1484.0,244.9 1484.9,235.2 1485.9,236.6 1486.8,246.6 1487.7,267.4 1488.6,294.3 1489.5,320.8 1490.4,340.1 1491.4,347.3 1492.3,340.3 1493.2,321.5 1494.1,296.0 1495.0,271.3 1495.9,254.7 1496.8,251.9 1497.8,265.0 1498.7,290.8 1499.6,323.0 1500.5,353.9 1501.4,375.7 1502.3,383.3 1503.2,375.0 1504.2,353.7 1505.1,325.8 1506.0,299.3 1506.9,282.2 1507.8,280.0 1508.7,294.4 1509.7,321.9 1510.6,355.9 1511.5,388.1 1512.4,410.6 1513.3,418.1 1514.2,409.1 1515.1,387.3 1516.1,359.1 1517.0,333.1 1517.9,316.7 1518.8,314.6 1519.7,326.8 1520.6,352.5 1521.5,385.5 1522.5,417.3 1523.4,439.8 1524.3,446.5 1525.2,434.1 1526.1,408.6 1527.0,377.1 1528.0,348.1 1528.9,329.3 1529.8,325.2 1530.7,335.5 1531.6,358.9 1532.5,388.9 1533.4,417.3 1534.4,436.3 1535.3,440.3 1536.2,427.4 1537.1,401.6 1538.0,369.7 1538.9,339.8 1539.8,319.7 1540.8,314.0 1541.7,323.7 1542.6,346.1 1543.5,374.8 1544.4,401.7 1545.3,419.2 1546.3,422.5 1547.2,410.4 1548.1,385.3 1549.0,353.6 1549.9,323.2 1550.8,302.3 1551.7,296.0 1552.7,306.0 1553.6,329.4 1554.5,359.9 1555.4,389.0 1556.3,408.4 1557.2,412.2 1558.1,398.3 1559.1,370.9 1560.0,336.7 1560.9,304.6 1561.8,282.6 1562.7,277.2 1563.6,291.9 1564.6,317.9 1565.5,347.4 1566.4,372.6 1567.3,387.5 1568.2,391.1 1569.1,388.6 1570.0,374.9 1571.0,354.4 1571.9,334.0 1572.8,320.7 1573.7,319.8 1574.6,333.1 1575.5,360.1 1576.4,395.5 1577.4,431.1 1578.3,458.3 1579.2,469.6 1580.1,461.3 1581.0,437.3 1581.9,404.5 1582.9,372.6 1583.8,351.4 1584.7,348.0 1585.6,364.9 1586.5,399.1 1587.4,442.9 1588.3,485.5 1589.3,516.3 1590.2,525.3 1591.1,504.9 1592.0,470.0 1592.9,430.8 1593.8,397.7 1594.7,378.4 1595.7,374.3 1596.6,380.3 1597.5,398.7 1598.4,423.2 1599.3,445.6 1600.2,458.6 1601.2,456.6 1602.1,436.8 1603.0,406.6 1603.9,372.7 1604.8,342.6 1605.7,321.8 1606.6,313.0 1607.6,315.0 1608.5,324.9 1609.4,337.5 1610.3,347.2 1611.2,349.6 1612.1,344.5 1613.0,336.4 1614.0,319.2 1614.9,295.7 1615.8,271.1 1616.7,251.5 1617.6,242.4 1618.5,247.4 1619.5,263.9 1620.4,287.2 1621.3,310.4 1622.2,326.4 1623.1,329.6 1624.0,318.1 1624.9,292.8 1625.9,259.3 1626.8,225.8 1627.7,200.9 1628.6,192.4 1629.5,205.0 1630.4,232.1 1631.3,266.3 1632.3,298.4 1633.2,319.7 1634.1,324.5 1635.0,311.3 1635.9,283.8 1636.8,249.4 1637.8,217.2 1638.7,195.6 1639.6,191.4 1640.5,207.9 1641.4,236.3 1642.3,268.7 1643.2,296.8 1644.2,314.1 1645.1,319.7 1646.0,319.3 1646.9,306.0 1647.8,284.4 1648.7,262.2 1649.6,247.6 1650.6,248.1 1651.5,268.3 1652.4,303.3 1653.3,346.3 1654.2,388.0 1655.1,419.7 1656.1,433.4 1657.0,424.4 1657.9,402.0 1658.8,374.5 1659.7,351.0 1660.6,338.8 1661.5,340.3 1662.5,351.3 1663.4,376.5 1664.3,410.3 1665.2,444.2 1666.1,469.3 1667.0,476.6 1667.9,459.0 1668.9,428.2 1669.8,392.4 1670.7,360.6 1671.6,340.3 1672.5,334.8 1673.4,342.6 1674.4,361.9 1675.3,386.2 1676.2,407.9 1677.1,420.4 1678.0,420.4 1678.9,409.2 1679.8,386.4 1680.8,357.2 1681.7,329.0 1682.6,308.8 1683.5,302.2 1684.4,312.1 1685.3,333.6 1686.2,360.6 1687.2,385.5 1688.1,401.6 1689.0,404.7 1689.9,394.6 1690.8,372.9 1691.7,345.2 1692.7,318.9 1693.6,300.9 1694.5,296.4 1695.4,306.9 1696.3,329.1 1697.2,356.9 1698.1,383.1 1699.1,400.5 1700.0,404.4 1700.9,393.2 1701.8,371.0 1702.7,343.9 1703.6,319.1 1704.5,303.0 1705.5,298.6 1706.4,304.7 1707.3,322.4 1708.2,346.6 1709.1,370.3 1710.0,386.4 1711.0,389.3 1711.9,376.9 1712.8,351.7 1713.7,319.6 1714.6,288.3 1715.5,265.7 1716.4,258.4 1717.4,269.7 1718.3,293.5 1719.2,322.8 1720.1,349.6 1721.0,366.6 1721.9,370.2 1722.8,361.8 1723.8,340.3 1724.7,311.3 1725.6,282.9 1726.5,263.2 1727.4,259.3 1728.3,275.3 1729.3,304.3 1730.2,339.1 1731.1,371.2 1732.0,393.1 1732.9,400.5 1733.8,393.3 1734.7,373.8 1735.7,348.3 1736.6,324.7 1737.5,310.4 1738.4,310.6 1739.3,326.9 1740.2,354.6 1741.1,387.4 1742.1,417.6 1743.0,438.6 1743.9,447.0 1744.8,443.4 1745.7,428.6 1746.6,408.1 1747.6,388.9 1748.5,377.9 1749.4,379.8 1750.3,396.5 1751.2,424.3 1752.1,457.2 1753.0,488.3 1754.0,510.9 1754.9,520.7 1755.8,516.3 1756.7,502.0 1757.6,483.4 1758.5,467.3 1759.4,459.3 1760.4,461.9 1761.3,473.2 1762.2,494.8 1763.1,522.5 1764.0,549.7 1764.9,570.1 1765.9,578.1 1766.8,570.6 1767.7,552.7 1768.6,529.8 1769.5,508.8 1770.4,495.9 1771.3,494.6 1772.3,505.2 1773.2,526.2 1774.1,552.6 1775.0,577.8 1775.9,595.4 1776.8,600.6 1777.7,591.3 1778.7,572.2 1779.6,548.9 1780.5,527.7 1781.4,514.5 1782.3,511.6 1783.2,517.0 1784.2,533.2 1785.1,555.7 1786.0,578.2 1786.9,593.9 1787.8,596.6 1788.7,581.6 1789.6,556.3 1790.6,526.5 1791.5,499.2 1792.4,480.4 1793.3,473.3 1794.2,477.6 1795.1,491.4 1796.0,509.7 1797.0,526.3 1797.9,535.4 1798.8,534.0 1799.7,522.0 1800.6,500.3 1801.5,473.4 1802.5,447.4 1803.4,428.3 1804.3,420.7 1805.2,426.7 1806.1,442.2 1807.0,462.2 1807.9,480.4 1808.9,491.1 1809.8,491.7 1810.7,482.9 1811.6,463.8 1812.5,438.5 1813.4,413.5 1814.3,395.3 1815.3,389.5 1816.2,399.9 1817.1,420.7 1818.0,446.3 1818.9,469.8 1819.8,485.2 1820.8,489.1 1821.7,482.0 1822.6,464.2 1823.5,440.9 1824.4,418.4 1825.3,403.5 1826.2,399.9 1827.2,408.0 1828.1,428.6 1829.0,456.7 1829.9,484.9 1830.8,505.5 1831.7,508.9 1832.6,485.9 1833.6,454.3 1834.5,422.3 1835.4,397.0 1836.3,382.2 1837.2,376.8 1838.1,375.0 1839.1,376.9 1840.0,378.3 1840.9,376.1 1841.8,368.9 1842.7,358.3 1843.6,349.0 1844.5,337.8 1845.5,326.0 1846.4,315.0 1847.3,305.8 1848.2,298.0 1849.1,289.8 1850.0,284.3 1850.9,280.9 1851.9,278.4 1852.8,274.8 1853.7,269.3 1854.6,262.8 1855.5,250.3 1856.4,232.2 1857.4,211.4 1858.3,192.5 1859.2,181.2 1860.1,183.4 1861.0,194.0 1861.9,209.3 1862.8,224.4 1863.8,234.0 1864.7,234.4 1865.6,224.7 1866.5,205.0 1867.4,179.3 1868.3,153.4 1869.2,133.7 1870.2,126.0 1871.1,134.1 1872.0,152.6 1872.9,176.3 1873.8,198.2 1874.7,212.3 1875.7,214.7 1876.6,205.4 1877.5,185.2 1878.4,159.1 1879.3,133.9 1880.2,116.3 1881.1,111.6 1882.1,122.5 1883.0,144.1 1883.9,170.6 1884.8,194.9 1885.7,210.9 1886.6,216.6 1887.5,215.3 1888.5,200.5 1889.4,176.1 1890.3,149.8 1891.2,130.7 1892.1,129.1 1893.0,154.3 1894.0,193.3 1894.9,237.9 1895.8,278.7 1896.7,308.0 1897.6,322.3 1898.5,323.4 1899.4,311.6 1900.4,293.2 1901.3,276.5 1902.2,269.4 1903.1,278.0 1904.0,306.1 1904.9,345.2 1905.8,388.1 1906.8,427.1 1907.7,456.1 1908.6,472.2 1909.5,475.7 1910.4,471.6 1911.3,465.6 1912.3,463.5 1913.2,469.2 1914.1,481.3 1915.0,492.7 1915.9,513.5 1916.8,541.3 1917.7,571.2 1918.7,596.9 1919.6,610.7 1920.5,606.2 1921.4,591.0 1922.3,570.4 1923.2,551.3 1924.1,540.2 1925.1,540.3 1926.0,550.3 1926.9,573.1 1927.8,604.1 1928.7,635.8 1929.6,659.9 1930.6,668.6 1931.5,656.4 1932.4,630.3 1933.3,597.3" stroke="#ff0000" stroke-width="5.8" stroke-dasharray="5.6 8.3" stroke-linejoin="round"/>
<g stroke="#0000ff" stroke-width="9.2" stroke-linecap="butt" stroke-linejoin="round" fill="none">
<polyline points="233.0,530.0 248.5,530.5 252.5,555.0"/>
<polyline points="258.3,618.5 263.4,665.4"/>
<polyline points="272.3,727.5 280.0,774.0"/>
<polyline points="297.7,836.4 306.5,855.4 316.7,852.9"/>
<polyline points="344.6,823.7 350.9,778.0"/>
<polyline points="363.6,727.5 372.5,681.9"/>
<polyline points="382.6,621.0 390.3,605.8 402.9,603.2"/>
<polyline points="411.8,539.8 415.6,495.4"/>
<polyline points="428.0,444.0 430.0,442.0 436.0,489.0"/>
<polyline points="449.9,537.3 458.8,577.9"/>
<polyline points="466.4,638.8 472.7,687.0"/>
<polyline points="479.0,748.0 484.1,795.8"/>
<polyline points="490.5,858.0 494.3,904.9"/>
<polyline points="496.8,967.0 500.6,1014.0"/>
<polyline points="504.4,1076.0 512.0,1121.5"/>
<polyline points="526.8,1060.0 534.0,1013.2"/>
<polyline points="547.1,963.7 551.0,945.0 554.7,937.0 559.8,939.6"/>
<polyline points="567.4,1005.6 571.2,1052.5"/>
<polyline points="572.5,1060.0 576.3,1108.3"/>
<polyline points="584.0,1160.0 586.4,1165.0 597.9,1122.0"/>
<polyline points="602.9,1061.4 606.7,1013.0"/>
<polyline points="608.5,951.0 612.0,904.0"/>
<polyline points="618.5,841.5 623.6,795.8"/>
<polyline points="633.8,732.6 637.6,687.0"/>
<polyline points="646.5,625.0 652.8,646.0 659.0,621.0"/>
<polyline points="673.0,571.5 689.3,613.5"/>
<polyline points="696.5,675.7 702.8,722.6"/>
<polyline points="705.4,784.8 710.4,831.7"/>
<polyline points="715.5,894.0 720.6,940.9"/>
<polyline points="730.7,1004.3 734.5,1050.0"/>
<polyline points="745.4,1110.8 752.3,1136.2 761.2,1138.2"/>
<polyline points="775.1,1085.5 778.9,1039.8"/>
<polyline points="784.0,976.4 790.3,929.5"/>
<polyline points="800.5,867.0 806.8,820.0"/>
<polyline points="819.5,769.6 831.0,727.7"/>
<polyline points="837.3,664.3 848.7,621.0"/>
<polyline points="855.0,557.6 860.0,511.7"/>
<polyline points="872.8,454.6 878.0,428.0 883.0,420.4 886.0,424.0"/>
<polyline points="905.8,471.0 918.5,425.5"/>
<polyline points="926.0,362.0 933.7,335.4 941.3,359.5"/>
<polyline points="955.3,419.0 969.2,457.0"/>
<polyline points="981.9,519.3 990.2,557.6"/>
<polyline points="1009.8,611.0 1025.0,650.4"/>
<polyline points="1044.0,633.9 1054.2,588.2"/>
<polyline points="1060.5,529.5 1072.0,504.0 1080.8,523.0"/>
<polyline points="1099.0,557.6 1106.2,601.5"/>
<polyline points="1121.4,600.9 1130.8,578.0 1136.6,593.0"/>
<polyline points="1148.0,654.0 1155.6,674.0 1164.5,655.0"/>
<polyline points="1182.8,674.3 1190.4,720.0"/>
<polyline points="1204.4,674.3 1213.3,636.2"/>
<polyline points="1231.0,583.0 1240.0,538.5"/>
<polyline points="1243.7,517.0 1255.0,470.0"/>
<polyline points="1279.0,471.0 1289.0,445.0"/>
<polyline points="1295.7,382.8 1300.8,335.8"/>
<polyline points="1307.0,273.7 1311.0,226.7"/>
<polyline points="1317.0,168.0 1319.8,159.5 1332.5,201.4"/>
<polyline points="1360.4,229.3 1370.6,205.2 1380.7,195.0"/>
<polyline points="1397.2,242.0 1411.0,238.0 1421.3,207.7"/>
<polyline points="1435.5,147.0 1440.0,141.0 1446.3,149.5 1451.3,142.5 1452.5,146.0"/>
<polyline points="1462.5,86.0 1466.3,81.0 1472.7,119.0"/>
<polyline points="1481.0,179.8 1488.8,228.0"/>
<polyline points="1501.4,281.3 1511.6,327.0"/>
<polyline points="1528.0,365.0 1537.0,344.7 1543.3,330.8"/>
<polyline points="1562.0,280.0 1564.9,273.7 1575.0,316.8"/>
<polyline points="1580.0,370.0 1585.0,411.0"/>
<polyline points="1600.4,360.0 1608.0,313.0"/>
<polyline points="1618.0,257.0 1628.3,215.3"/>
<polyline points="1648.6,263.5 1651.6,311.7"/>
<polyline points="1656.0,372.6 1660.0,420.6"/>
<polyline points="1673.0,371.0 1694.0,349.0"/>
<polyline points="1717.0,292.0 1721.0,290.0 1728.0,312.0"/>
<polyline points="1736.0,375.0 1743.7,421.9"/>
<polyline points="1752.6,484.0 1757.7,524.6"/>
<polyline points="1780.0,555.0 1784.3,557.6 1791.9,512.0"/>
<polyline points="1805.9,451.0 1813.5,406.6"/>
<polyline points="1833.8,425.7 1841.4,380.0"/>
<polyline points="1844.0,319.0 1850.3,270.0"/>
<polyline points="1861.7,210.0 1869.3,165.9"/>
<polyline points="1890.8,182.4 1897.2,229.3"/>
<polyline points="1901.5,292.7 1904.8,339.6"/>
<polyline points="1907.3,401.6 1912.4,448.5"/>
<polyline points="1915.0,489.0 1921.3,537.3"/>
<polyline points="1927.6,598.0 1934.5,633.7"/>
</g>
<rect x="232.7" y="523.6" width="17.5" height="12.6" rx="2" fill="#0000ff"/>
<g fill="#0000ff">
<rect x="250.0" y="583.5" width="9.0" height="9.0" rx="1.8"/>
<rect x="262.7" y="692.6" width="9.0" height="9.0" rx="1.8"/>
<rect x="281.2" y="801.5" width="9.0" height="9.0" rx="1.8"/>
<rect x="324.9" y="825.5" width="9.0" height="9.0" rx="1.8"/>
<rect x="348.1" y="744.0" width="9.0" height="9.0" rx="1.8"/>
<rect x="371.3" y="646.9" width="9.0" height="9.0" rx="1.8"/>
<rect x="403.0" y="569.5" width="9.0" height="9.0" rx="1.8"/>
<rect x="415.7" y="460.5" width="9.0" height="9.0" rx="1.8"/>
<rect x="435.2" y="512.5" width="9.0" height="9.0" rx="1.8"/>
<rect x="458.1" y="603.8" width="9.0" height="9.0" rx="1.8"/>
<rect x="472.0" y="712.9" width="9.0" height="9.0" rx="1.8"/>
<rect x="482.2" y="822.5" width="9.0" height="9.0" rx="1.8"/>
<rect x="491.0" y="931.3" width="9.0" height="9.0" rx="1.8"/>
<rect x="498.1" y="1039.9" width="9.0" height="9.0" rx="1.8"/>
<rect x="516.8" y="1086.8" width="9.0" height="9.0" rx="1.8"/>
<rect x="533.8" y="978.7" width="9.0" height="9.0" rx="1.8"/>
<rect x="559.1" y="968.8" width="9.0" height="9.0" rx="1.8"/>
<rect x="575.1" y="1134.2" width="9.0" height="9.0" rx="1.8"/>
<rect x="595.4" y="1086.8" width="9.0" height="9.0" rx="1.8"/>
<rect x="601.7" y="978.2" width="9.0" height="9.0" rx="1.8"/>
<rect x="610.2" y="868.7" width="9.0" height="9.0" rx="1.8"/>
<rect x="625.5" y="760.5" width="9.0" height="9.0" rx="1.8"/>
<rect x="636.1" y="650.7" width="9.0" height="9.0" rx="1.8"/>
<rect x="655.9" y="586.0" width="9.0" height="9.0" rx="1.8"/>
<rect x="688.2" y="640.0" width="9.0" height="9.0" rx="1.8"/>
<rect x="699.5" y="749.9" width="9.0" height="9.0" rx="1.8"/>
<rect x="707.2" y="858.5" width="9.0" height="9.0" rx="1.8"/>
<rect x="719.4" y="968.1" width="9.0" height="9.0" rx="1.8"/>
<rect x="733.8" y="1075.9" width="9.0" height="9.0" rx="1.8"/>
<rect x="765.5" y="1112.2" width="9.0" height="9.0" rx="1.8"/>
<rect x="777.5" y="1003.1" width="9.0" height="9.0" rx="1.8"/>
<rect x="790.2" y="894.5" width="9.0" height="9.0" rx="1.8"/>
<rect x="806.1" y="786.5" width="9.0" height="9.0" rx="1.8"/>
<rect x="828.5" y="692.0" width="9.0" height="9.0" rx="1.8"/>
<rect x="848.5" y="585.0" width="9.0" height="9.0" rx="1.8"/>
<rect x="863.2" y="476.8" width="9.0" height="9.0" rx="1.8"/>
<rect x="889.9" y="438.7" width="9.0" height="9.0" rx="1.8"/>
<rect x="918.3" y="389.3" width="9.0" height="9.0" rx="1.8"/>
<rect x="940.5" y="385.5" width="9.0" height="9.0" rx="1.8"/>
<rect x="973.5" y="481.9" width="9.0" height="9.0" rx="1.8"/>
<rect x="1000.2" y="574.7" width="9.0" height="9.0" rx="1.8"/>
<rect x="1030.1" y="658.0" width="9.0" height="9.0" rx="1.8"/>
<rect x="1052.2" y="551.8" width="9.0" height="9.0" rx="1.8"/>
<rect x="1081.8" y="539.1" width="9.0" height="9.0" rx="1.8"/>
<rect x="1109.3" y="624.3" width="9.0" height="9.0" rx="1.8"/>
<rect x="1138.5" y="619.2" width="9.0" height="9.0" rx="1.8"/>
<rect x="1169.8" y="647.5" width="9.0" height="9.0" rx="1.8"/>
<rect x="1196.1" y="703.5" width="9.0" height="9.0" rx="1.8"/>
<rect x="1215.9" y="605.8" width="9.0" height="9.0" rx="1.8"/>
<rect x="1260.8" y="454.9" width="9.0" height="9.0" rx="1.8"/>
<rect x="1288.5" y="409.5" width="9.0" height="9.0" rx="1.8"/>
<rect x="1299.5" y="300.9" width="9.0" height="9.0" rx="1.8"/>
<rect x="1309.0" y="191.3" width="9.0" height="9.0" rx="1.8"/>
<rect x="1342.0" y="218.5" width="9.0" height="9.0" rx="1.8"/>
<rect x="1383.3" y="217.7" width="9.0" height="9.0" rx="1.8"/>
<rect x="1422.5" y="174.5" width="9.0" height="9.0" rx="1.8"/>
<rect x="1454.8" y="104.8" width="9.0" height="9.0" rx="1.8"/>
<rect x="1472.8" y="144.9" width="9.0" height="9.0" rx="1.8"/>
<rect x="1489.8" y="253.2" width="9.0" height="9.0" rx="1.8"/>
<rect x="1511.5" y="345.3" width="9.0" height="9.0" rx="1.8"/>
<rect x="1550.2" y="299.1" width="9.0" height="9.0" rx="1.8"/>
<rect x="1572.5" y="344.8" width="9.0" height="9.0" rx="1.8"/>
<rect x="1590.8" y="380.8" width="9.0" height="9.0" rx="1.8"/>
<rect x="1608.5" y="278.8" width="9.0" height="9.0" rx="1.8"/>
<rect x="1638.5" y="228.5" width="9.0" height="9.0" rx="1.8"/>
<rect x="1648.5" y="337.5" width="9.0" height="9.0" rx="1.8"/>
<rect x="1664.5" y="396.5" width="9.0" height="9.0" rx="1.8"/>
<rect x="1705.0" y="333.8" width="9.0" height="9.0" rx="1.8"/>
<rect x="1728.3" y="339.5" width="9.0" height="9.0" rx="1.8"/>
<rect x="1743.8" y="449.1" width="9.0" height="9.0" rx="1.8"/>
<rect x="1763.3" y="549.3" width="9.0" height="9.0" rx="1.8"/>
<rect x="1791.2" y="478.2" width="9.0" height="9.0" rx="1.8"/>
<rect x="1820.4" y="426.2" width="9.0" height="9.0" rx="1.8"/>
<rect x="1838.1" y="344.5" width="9.0" height="9.0" rx="1.8"/>
<rect x="1849.0" y="235.5" width="9.0" height="9.0" rx="1.8"/>
<rect x="1876.2" y="157.0" width="9.0" height="9.0" rx="1.8"/>
<rect x="1894.7" y="256.5" width="9.0" height="9.0" rx="1.8"/>
<rect x="1901.5" y="366.3" width="9.0" height="9.0" rx="1.8"/>
<rect x="1909.2" y="475.5" width="9.0" height="9.0" rx="1.8"/>
<rect x="1919.3" y="563.2" width="9.0" height="9.0" rx="1.8"/>
</g>
</g>
<g class="tk" text-anchor="middle">
<text x="233.2" y="1408.7">0</text>
<text x="516.8" y="1408.7">10</text>
<text x="800.5" y="1408.7">20</text>
<text x="1084.1" y="1408.7">30</text>
<text x="1367.8" y="1408.7">40</text>
<text x="1651.5" y="1408.7">50</text>
<text x="1935.1" y="1408.7">60</text>
</g>
<g class="tk" text-anchor="end">
<text x="204.5" y="1358.6">−100</text>
<text x="204.5" y="1195.7">−80</text>
<text x="204.5" y="1032.9">−60</text>
<text x="204.5" y="870.0">−40</text>
<text x="204.5" y="707.1">−20</text>
<text x="204.5" y="544.2">0</text>
<text x="204.5" y="381.4">20</text>
<text x="204.5" y="218.5">40</text>
<text x="204.5" y="55.6">60</text>
</g>
<text class="ax" text-anchor="middle" x="1083.3" y="1511.8" textLength="220" lengthAdjust="spacing">Time (s)</text>
<text class="ax" text-anchor="middle" transform="translate(66.6,638.7) rotate(-90)" textLength="516" lengthAdjust="spacing">Displacement (mm)</text>
<rect x="232.7" y="40.3" width="851.5" height="207.2" fill="#fff" stroke="none"/>
<g fill="none" stroke-width="3.0">
<line x1="232.7" y1="248.7" x2="1085.5" y2="248.7" stroke="#8e8e8e" stroke-width="5.2"/>
<line x1="232.7" y1="40.3" x2="1085.5" y2="40.3" stroke="#3c3c3c"/>
<line x1="1084.2" y1="40.3" x2="1084.2" y2="250.5" stroke="#585858"/>
<line x1="232.7" y1="39.0" x2="232.7" y2="250.5" stroke="#3c3c3c"/>
</g>
<line x1="239.3" y1="77.6" x2="362.6" y2="77.6" stroke="#000" stroke-width="3"/>
<line x1="237.2" y1="144.2" x2="360" y2="144.2" stroke="#ff0000" stroke-width="5.9" stroke-dasharray="6.2 8"/>
<g fill="#0000ff"><rect x="237.1" y="206.3" width="51.4" height="9" rx="2.2"/><rect x="311.8" y="206.3" width="9.8" height="9" rx="2.5"/><rect x="346.3" y="206.3" width="21" height="9" rx="2.2"/></g>
<text class="lg" x="375.6" y="95.2">LDS</text>
<text class="lg" x="375.4" y="162" textLength="505.1" lengthAdjust="spacing">UAV before Processing</text>
<text class="lg" x="375.4" y="228.5" textLength="699.6" lengthAdjust="spacing">Displacement Increment of UAV</text>
</svg></body></html>
